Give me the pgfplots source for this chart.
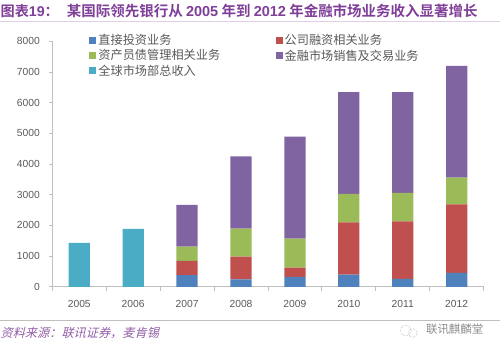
\documentclass[border=0pt]{standalone}
\usepackage{fontspec}
\setmainfont{Liberation Sans}
\newfontfamily\cjk{Noto Sans CJK SC}
\newfontfamily\cjkb[BoldFont={Noto Sans CJK SC Bold}]{Noto Sans CJK SC Bold}
\newfontfamily\cjki[FakeSlant=0.25]{Noto Sans CJK SC}
\usepackage{pgfplots}
\pgfplotsset{compat=1.18}
\definecolor{cblue}{HTML}{4F81BD}
\definecolor{cred}{HTML}{C0504D}
\definecolor{cgreen}{HTML}{9BBB59}
\definecolor{cpurple}{HTML}{8064A2}
\definecolor{cteal}{HTML}{4BACC6}
\definecolor{axisgray}{HTML}{BFBFBF}
\definecolor{labgray}{HTML}{595959}
\definecolor{titlepurple}{HTML}{7F3F98}
\begin{document}
\begin{tikzpicture}[x=1pt,y=1pt]
\path (0,0) rectangle (500,352);
\node[anchor=west,inner sep=0pt,text=titlepurple] at (0,341) {\fontsize{14.2}{16}\selectfont\bfseries\cjkb 图表\textbf{\rmfamily 19}：};
\node[anchor=west,inner sep=0pt,text=titlepurple] at (66.5,341) {\fontsize{14.5}{16}\selectfont\cjkb 某国际领先银行从 {\rmfamily\bfseries 2005} 年到 {\rmfamily\bfseries 2012} 年金融市场业务收入显著增长};
\draw[draw=titlepurple!25,line width=0.8pt] (0,330.5) -- (500,330.5);
\draw[draw=axisgray,line width=0.8pt] (0,30.7) -- (500,30.7);
\node[anchor=west,inner sep=0pt,text=titlepurple!85] at (0,18) {\fontsize{12.2}{14}\selectfont\cjki 资料来源：联讯证券，麦肯锡};
\node[anchor=east,inner sep=0pt,text=black!45] at (484,22) {\fontsize{11.5}{13}\selectfont\cjk 联讯麒麟堂};
\draw[black!35,line width=0.5pt,densely dotted] (406,21) circle (5.5pt);
\draw[black!35,line width=0.5pt,densely dotted] (413,18.5) circle (4.5pt);
\begin{axis}[
  at={(52pt,64.7pt)},anchor=south west,
  scale only axis,width=432pt,height=246pt,
  axis lines=left,axis line style={draw=axisgray,line width=0.8pt,-},
  ybar stacked,bar width=21.3pt,
  xmin=-0.5,xmax=7.5,ymin=0,ymax=8000,
  xtick={0,1,2,3,4,5,6,7},
  xticklabels={2005,2006,2007,2008,2009,2010,2011,2012},
  minor xtick={-0.5,0.5,1.5,2.5,3.5,4.5,5.5,6.5,7.5},
  ytick={0,1000,2000,3000,4000,5000,6000,7000,8000},
  major x tick style={draw=none},
  minor x tick style={draw=axisgray,line width=0.8pt},
  minor tick length=4pt,
  y tick style={draw=axisgray,line width=0.8pt},
  major tick length=3pt,
  tick align=outside,
  /pgf/number format/assume math mode=true,
  /pgf/number format/set thousands separator={},
  tick label style={font=\fontsize{10.3}{12}\selectfont,text=labgray},
  xticklabel style={yshift=-7pt},
  yticklabel style={xshift=-6pt},
  legend cell align=left,
  legend columns=2,
  legend style={at={(37pt,255pt)},anchor=north west,draw=none,fill=none,inner sep=0pt,
    font=\fontsize{12.2}{14}\selectfont\color{labgray}\cjk,
    /tikz/every even column/.append style={column sep=0pt},
    row sep=-0.5pt},
  legend image code/.code={\fill[#1] (2pt,-3.5pt) rectangle (9pt,3.5pt);},
]
\addplot[draw=none,fill=cblue] coordinates {(0,0)(1,0)(2,380)(3,240)(4,325)(5,400)(6,260)(7,455)};
\addplot[draw=none,fill=cred] coordinates {(0,0)(1,0)(2,465)(3,746)(4,304)(5,1703)(6,1875)(7,2233)};
\addplot[draw=none,fill=cgreen] coordinates {(0,0)(1,0)(2,467)(3,911)(4,943)(5,921)(6,922)(7,868)};
\addplot[draw=none,fill=cpurple] coordinates {(0,0)(1,0)(2,1355)(3,2353)(4,3318)(5,3317)(6,3283)(7,3641)};
\addplot[draw=none,fill=cteal] coordinates {(0,1431)(1,1886)(2,0)(3,0)(4,0)(5,0)(6,0)(7,0)};
\legend{\makebox[175.5pt][l]{直接投资业务},公司融资相关业务,\makebox[175.5pt][l]{资产员债管理相关业务},金融市场销售及交易业务,全球市场部总收入}
\end{axis}
\end{tikzpicture}
\end{document}
